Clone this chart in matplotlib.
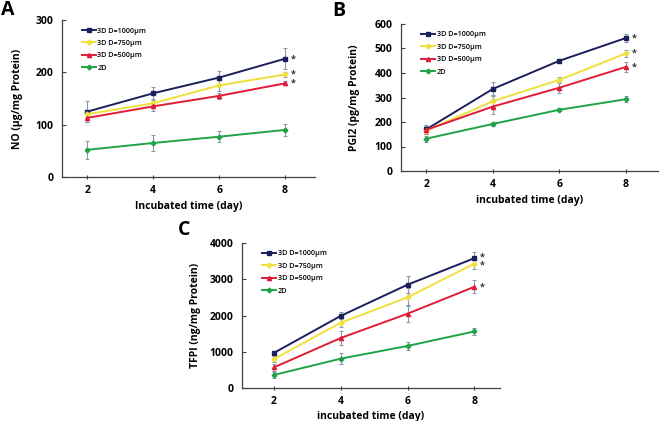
import matplotlib
matplotlib.use("Agg")
import matplotlib.pyplot as plt
from matplotlib.lines import Line2D
import numpy as np

days = [2, 4, 6, 8]
series_labels = ["3D D=1000μm", "3D D=750μm", "3D D=500μm", "2D"]
colors = ["#1b1f5c", "#f0e03c", "#e01c38", "#1fa346"]
markers = ["s", "D", "^", "P"]

# Panel A: NO (μg/mg Protein)
no_vals = [
    [125, 160, 190, 226],
    [120, 141, 175, 196],
    [113, 135, 155, 179],
    [52, 65, 77, 90],
]
no_err = [
    [20, 12, 12, 20],
    [6, 8, 10, 5],
    [7, 8, 6, 4],
    [17, 15, 10, 12],
]

# Panel B: PGI2 (pg/mg Protein)
pgi_vals = [
    [170, 335, 450, 543],
    [165, 285, 372, 480],
    [168, 263, 340, 425],
    [132, 192, 250, 293],
]
pgi_err = [
    [18, 30, 8, 15],
    [15, 25, 10, 15],
    [15, 30, 20, 20],
    [12, 8, 6, 12],
]

# Panel C: TFPI (ng/mg Protein)
tfpi_vals = [
    [970, 1990, 2850, 3580],
    [800, 1800, 2500, 3430],
    [570, 1380, 2050, 2790],
    [360, 810, 1160, 1560],
]
tfpi_err = [
    [60, 100, 230, 170],
    [70, 120, 250, 150],
    [100, 180, 230, 180],
    [80, 150, 120, 100],
]

W, H = 661, 421
fig = plt.figure(figsize=(W / 100, H / 100), dpi=100)
fig.patch.set_facecolor("white")

FONT = "Open Sans"
plt.rcParams["font.family"] = [FONT, "DejaVu Sans"]


def make_ax(left, right, top, bottom):
    return fig.add_axes([left / W, 1 - bottom / H, (right - left) / W, (bottom - top) / H])


def draw(ax, vals, errs, ylim, yticks, xlim, ylabel, xlabel, letter, letter_xy,
         ylabel_x, xlabel_y, star_offsets):
    handles = []
    for i, (v, e) in enumerate(zip(vals, errs)):
        ms = 3 if i != 1 else 2.5
        ax.errorbar(days, v, yerr=e, color=colors[i], marker=markers[i],
                    markersize=ms, linewidth=1.4,
                    ecolor="#8a9aa8", elinewidth=0.8, capsize=1.5, capthick=0.8,
                    zorder=3)
        handles.append(Line2D([], [], color=colors[i], marker=markers[i],
                              markersize=ms, linewidth=1.4, label=series_labels[i]))
    ax.set_xlim(*xlim)
    ax.set_ylim(*ylim)
    ax.set_xticks(days)
    ax.set_yticks(yticks)
    for s in ["top", "right"]:
        ax.spines[s].set_visible(False)
    for s in ["left", "bottom"]:
        ax.spines[s].set_color("#404040")
        ax.spines[s].set_linewidth(0.9)
    ax.tick_params(axis="y", direction="in", length=3, width=0.8, color="#404040",
                   labelsize=7.5, pad=6)
    ax.tick_params(axis="x", direction="inout", length=3, width=0.8, color="#404040",
                   labelsize=7.5, pad=4)
    for lab in ax.get_xticklabels() + ax.get_yticklabels():
        lab.set_fontweight("bold")
    ax.set_ylabel(ylabel, fontsize=7.5, fontweight="bold")
    ax.set_xlabel(xlabel, fontsize=7.5, fontweight="bold")
    ax.yaxis.set_label_coords(ylabel_x, 0.5)
    ax.xaxis.set_label_coords(0.5, xlabel_y)
    leg = ax.legend(handles=handles, loc="upper left", bbox_to_anchor=(0.06, 0.98),
                    frameon=False, fontsize=5.2, handlelength=2.0, handletextpad=0.2,
                    labelspacing=0.75, borderaxespad=0.2)
    for t in leg.get_texts():
        t.set_fontweight("semibold")
    for i in range(3):
        ax.annotate("*", xy=(8, vals[i][3]), xytext=(6, star_offsets[i]),
                    textcoords="offset points", fontsize=6.5, fontweight="bold",
                    color="#333333", ha="center", va="center")
    fig.text(letter_xy[0] / W, 1 - letter_xy[1] / H, letter, fontsize=14,
             fontweight="bold", ha="left", va="center")


axA = make_ax(62, 315, 20, 177)
draw(axA, no_vals, no_err, (0, 300), [0, 100, 200, 300], (1.23, 8.91),
     "NO (μg/mg Protein)", "Incubated time (day)", "A", (1, 10),
     -0.155, -0.15, [0, 0, 0])

axB = make_ax(401, 658, 24, 171)
draw(axB, pgi_vals, pgi_err, (0, 600), [0, 100, 200, 300, 400, 500, 600], (1.24, 8.96),
     "PGI2 (pg/mg Protein)", "incubated time (day)", "B", (332, 11),
     -0.16, -0.16, [0, 0, 0])

axC = make_ax(242, 500, 243, 388)
draw(axC, tfpi_vals, tfpi_err, (0, 4000), [0, 1000, 2000, 3000, 4000], (1.04, 8.77),
     "TFPI (ng/mg Protein)", "incubated time (day)", "C", (178, 230),
     -0.16, -0.16, [1, -1, 0])

fig.savefig("out.png", dpi=100, facecolor="white")
